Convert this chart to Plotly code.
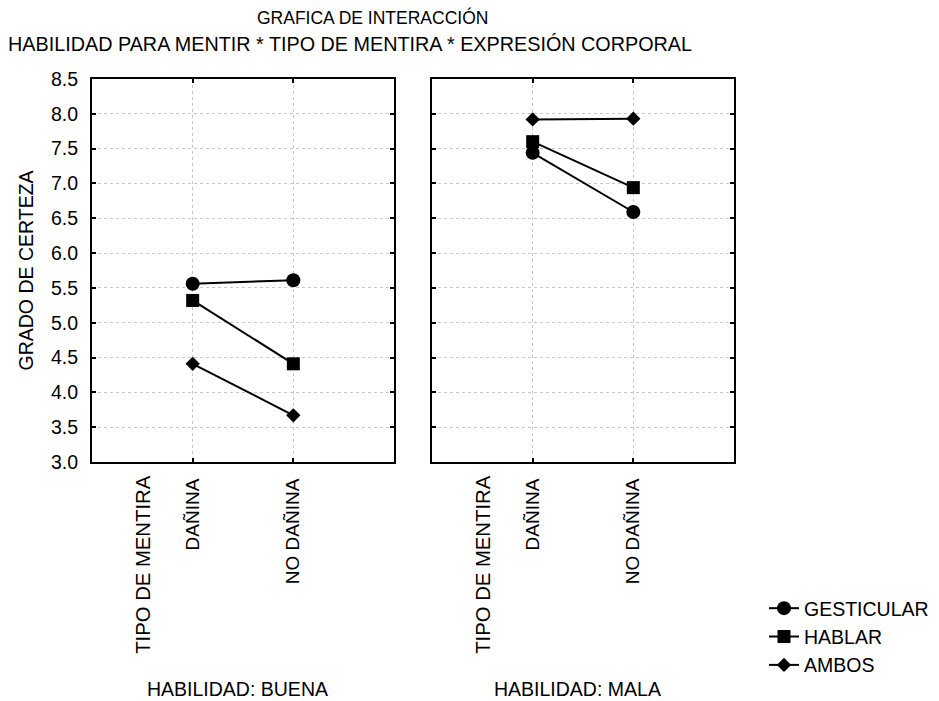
import plotly.graph_objects as go

# Factor levels
TIPOS = ["DAÑINA", "NO DAÑINA"]
HABILIDADES = ["HABILIDAD: BUENA", "HABILIDAD: MALA"]
SERIES = ["GESTICULAR", "HABLAR", "AMBOS"]

# Mean certainty per series, per skill level (DAÑINA, NO DAÑINA)
GESTICULAR_BUENA = [5.56, 5.61]
HABLAR_BUENA = [5.32, 4.41]
AMBOS_BUENA = [4.41, 3.67]

GESTICULAR_MALA = [7.44, 6.59]
HABLAR_MALA = [7.60, 6.94]
AMBOS_MALA = [7.92, 7.93]

Y_TICKS = [3.0, 3.5, 4.0, 4.5, 5.0, 5.5, 6.0, 6.5, 7.0, 7.5, 8.0, 8.5]

FONT = "Liberation Sans, Arial, sans-serif"
FS = 19.5
W, H = 939, 701

values = {
    "HABILIDAD: BUENA": [GESTICULAR_BUENA, HABLAR_BUENA, AMBOS_BUENA],
    "HABILIDAD: MALA": [GESTICULAR_MALA, HABLAR_MALA, AMBOS_MALA],
}
symbols = {"GESTICULAR": ("circle", 14), "HABLAR": ("square", 13), "AMBOS": ("diamond", 11)}

x_pos = [TIPOS.index(t) + 1 for t in TIPOS]

fig = go.Figure()
for p, hab in enumerate(HABILIDADES):
    xa = "x" if p == 0 else "x2"
    ya = "y" if p == 0 else "y2"
    for s, name in enumerate(SERIES):
        sym, size = symbols[name]
        fig.add_trace(go.Scatter(
            x=x_pos, y=values[hab][s], xaxis=xa, yaxis=ya,
            mode="lines+markers", name=name, showlegend=(p == 0),
            line=dict(color="black", width=2),
            marker=dict(symbol=sym, size=size, color="black"),
        ))

# panel geometry in pixels
left1, right1 = 92, 394
left2, right2 = 432, 734
top, bottom = 79, 462
ydom = [1 - bottom / H, 1 - top / H]

axis_common = dict(
    showline=True, linecolor="black", linewidth=2, mirror="ticks",
    ticks="inside", ticklen=4, tickwidth=2, tickcolor="black",
    showgrid=True, gridcolor="#c8c8c8", griddash="dot", gridwidth=1,
    zeroline=False, automargin=False,
    tickfont=dict(family=FONT, size=FS, color="black"),
)

xaxis_common = dict(axis_common, range=[0, 3], tickvals=x_pos, ticktext=TIPOS,
                    tickangle=-90, ticklabelstandoff=7,
                    tickfont=dict(family=FONT, size=19, color="black"))
yaxis_common = dict(axis_common, range=[3.0, 8.5], tickvals=Y_TICKS,
                    ticktext=[f"{v:.1f}" for v in Y_TICKS], ticklabelstandoff=8)

fig.update_layout(
    width=W, height=H,
    margin=dict(l=0, r=0, t=0, b=0, pad=0, autoexpand=False),
    paper_bgcolor="white", plot_bgcolor="white",
    font=dict(family=FONT, size=FS, color="black"),
    xaxis=dict(xaxis_common, domain=[left1 / W, right1 / W], anchor="y"),
    yaxis=dict(yaxis_common, domain=ydom, anchor="x"),
    xaxis2=dict(xaxis_common, domain=[left2 / W, right2 / W], anchor="y2"),
    yaxis2=dict(yaxis_common, domain=ydom, anchor="x2", showticklabels=False),
    legend=dict(x=764 / W, y=1 - 589 / H, xanchor="left", yanchor="top",
                font=dict(family=FONT, size=FS), tracegroupgap=0,
                itemwidth=30, bgcolor="rgba(0,0,0,0)"),
    showlegend=True,
)

ann = []
ann.append(dict(text="GRAFICA DE INTERACCIÓN", x=372 / W, y=1 - 17 / H,
                xref="paper", yref="paper", xanchor="center", yanchor="middle",
                showarrow=False, font=dict(size=17.5)))
ann.append(dict(text="HABILIDAD PARA MENTIR * TIPO DE MENTIRA * EXPRESIÓN CORPORAL",
                x=350 / W, y=1 - 44 / H, xref="paper", yref="paper",
                xanchor="center", yanchor="middle", showarrow=False,
                font=dict(size=19.8)))
ann.append(dict(text="GRADO DE CERTEZA", x=25 / W, y=(ydom[0] + ydom[1]) / 2,
                xref="paper", yref="paper", xanchor="center", yanchor="middle",
                textangle=-90, showarrow=False))
for p, hab in enumerate(HABILIDADES):
    xr = "x" if p == 0 else "x2"
    ann.append(dict(text="TIPO DE MENTIRA", x=0.5, xref=xr, y=1 - 473 / H,
                    yref="paper", xanchor="center", yanchor="top", textangle=-90,
                    showarrow=False, font=dict(size=20.3)))
    ann.append(dict(text=hab, x=1.45, xref=xr, y=1 - 689 / H, yref="paper",
                    xanchor="center", yanchor="middle", showarrow=False))
fig.update_layout(annotations=ann)

fig.write_html("out.html")
